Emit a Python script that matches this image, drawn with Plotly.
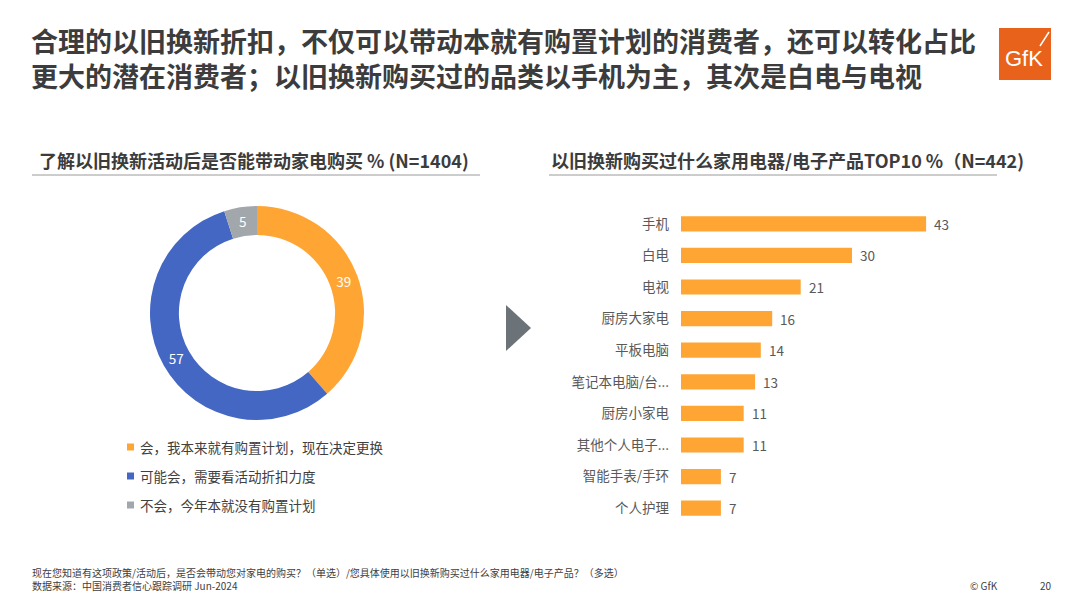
import plotly.graph_objects as go

W, H = 1080, 608

# ---------------- data ----------------
title_line1 = "合理的以旧换新折扣，不仅可以带动本就有购置计划的消费者，还可以转化占比"
title_line2 = "更大的潜在消费者；以旧换新购买过的品类以手机为主，其次是白电与电视"
left_subtitle = "了解以旧换新活动后是否能带动家电购买 % (N=1404)"
right_subtitle = "以旧换新购买过什么家用电器/电子产品TOP10 %（N=442)"

donut_labels = ["会，我本来就有购置计划，现在决定更换", "可能会，需要看活动折扣力度", "不会，今年本就没有购置计划"]
donut_values = [39, 57, 5]
donut_colors = ["#FFA533", "#4467C4", "#A2A7AC"]

bar_categories = ["手机", "白电", "电视", "厨房大家电", "平板电脑", "笔记本电脑/台...",
                  "厨房小家电", "其他个人电子...", "智能手表/手环", "个人护理"]
bar_values = [43, 30, 21, 16, 14, 13, 11, 11, 7, 7]
bar_color = "#FFA533"

footer_line1 = "现在您知道有这项政策/活动后，是否会带动您对家电的购买？（单选）/您具体使用以旧换新购买过什么家用电器/电子产品？（多选）"
footer_line2 = "数据来源：中国消费者信心跟踪调研 Jun-2024"
copyright_text = "© GfK"
page_number = "20"

FONT = "Noto Sans CJK SC, Noto Sans, sans-serif"
DARK = "#3C3C3C"
GREY_TXT = "#595959"


def px(x):
    return x / W


def py(y):
    return 1 - y / H


fig = go.Figure()

# donut
fig.add_trace(go.Pie(
    labels=donut_labels, values=donut_values, hole=0.73, sort=False,
    direction="clockwise", rotation=0,
    marker=dict(colors=donut_colors, line=dict(width=0)),
    textinfo="value", textposition="inside", insidetextorientation="horizontal",
    textfont=dict(family=FONT, size=13.5, color="white"),
    domain=dict(x=[px(150), px(364)], y=[py(420), py(206)]),
    showlegend=False, hoverinfo="label+value",
))

# bars
fig.add_trace(go.Bar(
    x=bar_values, y=bar_categories, orientation="h",
    marker=dict(color=bar_color, line=dict(width=0)),
    showlegend=False, hoverinfo="x+y",
))

annotations = []
for v, c in zip(bar_values, bar_categories):
    annotations.append(dict(x=v, y=c, xref="x", yref="y", text=str(v), showarrow=False,
                            xanchor="left", yanchor="middle", xshift=6,
                            font=dict(family=FONT, size=13.5, color=GREY_TXT)))

# titles (single block, two lines)
annotations.append(dict(x=px(29), y=py(58), xref="paper", yref="paper",
                        text="<b>" + title_line1 + "</b><br><b>" + title_line2 + "</b>",
                        showarrow=False, xanchor="left", yanchor="middle", align="left",
                        font=dict(family=FONT, size=27, color=DARK)))
annotations.append(dict(x=px(37), y=py(160), xref="paper", yref="paper", text="<b>" + left_subtitle + "</b>",
                        showarrow=False, xanchor="left", yanchor="middle",
                        font=dict(family=FONT, size=18, color=DARK)))
annotations.append(dict(x=px(549), y=py(160), xref="paper", yref="paper", text="<b>" + right_subtitle + "</b>",
                        showarrow=False, xanchor="left", yanchor="middle",
                        font=dict(family=FONT, size=18, color=DARK)))

# manual legend
shapes = []
legend_y = [447, 476, 505]
for lab, col, yy in zip(donut_labels, donut_colors, legend_y):
    shapes.append(dict(type="rect", xref="paper", yref="paper",
                       x0=px(127), x1=px(134), y0=py(yy + 3.5), y1=py(yy - 3.5),
                       fillcolor=col, line=dict(width=0)))
    annotations.append(dict(x=px(138), y=py(yy), xref="paper", yref="paper", text=lab,
                            showarrow=False, xanchor="left", yanchor="middle",
                            font=dict(family=FONT, size=13.5, color="#404040")))

# footer
annotations.append(dict(x=px(30), y=py(572), xref="paper", yref="paper", text=footer_line1,
                        showarrow=False, xanchor="left", yanchor="middle",
                        font=dict(family=FONT, size=10, color="#404040")))
annotations.append(dict(x=px(30), y=py(585), xref="paper", yref="paper", text=footer_line2,
                        showarrow=False, xanchor="left", yanchor="middle",
                        font=dict(family=FONT, size=10, color="#404040")))
annotations.append(dict(x=px(968), y=py(585), xref="paper", yref="paper", text=copyright_text,
                        showarrow=False, xanchor="left", yanchor="middle",
                        font=dict(family=FONT, size=10, color="#404040")))
annotations.append(dict(x=px(1046), y=py(585), xref="paper", yref="paper", text=page_number,
                        showarrow=False, xanchor="center", yanchor="middle",
                        font=dict(family=FONT, size=10, color="#404040")))

# GfK logo
shapes.append(dict(type="rect", xref="paper", yref="paper", x0=px(999), x1=px(1051), y0=py(80), y1=py(28),
                   fillcolor="#E8621C", line=dict(width=0)))
shapes.append(dict(type="line", xref="paper", yref="paper", x0=px(1040), y0=py(46), x1=px(1049), y1=py(32),
                   line=dict(color="white", width=1.5)))
annotations.append(dict(x=px(1024), y=py(59), xref="paper", yref="paper", text="GfK",
                        showarrow=False, xanchor="center", yanchor="middle",
                        font=dict(family="Liberation Sans Narrow, Liberation Sans, sans-serif", size=22, color="white")))

# underlines
shapes.append(dict(type="line", xref="paper", yref="paper", x0=px(32), x1=px(480), y0=py(175), y1=py(175),
                   line=dict(color="#9A9A9A", width=1)))
shapes.append(dict(type="line", xref="paper", yref="paper", x0=px(549), x1=px(997), y0=py(175), y1=py(175),
                   line=dict(color="#9A9A9A", width=1)))

# arrow
shapes.append(dict(type="path", xref="paper", yref="paper",
                   path=f"M {px(506)} {py(305)} L {px(531)} {py(328)} L {px(506)} {py(351)} Z",
                   fillcolor="#6B7379", line=dict(width=0)))

fig.update_layout(
    width=W, height=H, margin=dict(l=0, r=0, t=0, b=0),
    paper_bgcolor="white", plot_bgcolor="white",
    font=dict(family=FONT),
    bargap=0.52,
    xaxis=dict(domain=[px(681), px(966)], range=[0, 50], visible=False, fixedrange=True),
    yaxis=dict(domain=[py(524), py(208)], autorange="reversed", showline=False, showgrid=False,
               zeroline=False, ticks="", ticklabelstandoff=11,
               tickfont=dict(family=FONT, size=13.5, color=GREY_TXT)),
    annotations=annotations, shapes=shapes,
)

fig.write_html("out.html")
